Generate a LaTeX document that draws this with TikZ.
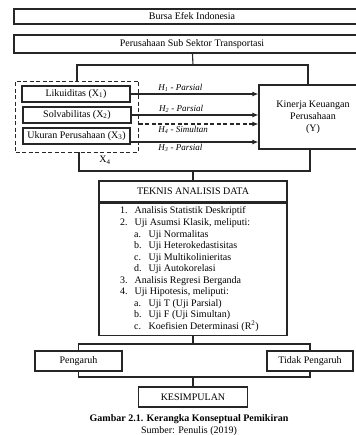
\documentclass[tikz,border=0pt]{standalone}
\usepackage{fontspec}
\setmainfont{Liberation Serif}
\usetikzlibrary{arrows.meta,positioning,calc}
\definecolor{ink}{HTML}{262626}

\begin{document}
\begin{tikzpicture}[x=1pt,y=-1pt,
  font=\fontsize{10}{12}\selectfont,
  box/.style={draw=ink,line width=1.1pt,inner sep=0pt,align=center},
  varbox/.style={draw=ink,line width=.9pt,dash pattern=on 4pt off 2.5pt,inner sep=0pt},
  link/.style={draw=ink,line width=1.1pt},
  arr/.style={-{Latex[length=6pt,width=5pt]},draw=ink,line width=1.1pt},
  lbl/.style={font=\itshape\fontsize{9}{11}\selectfont,inner sep=1.5pt},
  item/.style={inner sep=0pt}
]
\useasboundingbox (0,0) rectangle (355,435);
\node[box,minimum width=356pt,minimum height=15pt] (bei) at (192,16.5) {Bursa Efek Indonesia};
\node[box,minimum width=356pt,minimum height=18pt] (subsektor) at (192,44) {Perusahaan Sub Sektor Transportasi};
\node[varbox,minimum width=123pt,minimum height=71pt] (variabel) at (77,116.5) {};
\node[box,minimum width=108pt,minimum height=16pt] (lik) at (76,94) {Likuiditas (X\textsubscript{1})};
\node[box,minimum width=108pt,minimum height=16pt] (sol) at (77,115) {Solvabilitas (X\textsubscript{2})};
\node[box,minimum width=107pt,minimum height=16pt] (uk) at (76.5,136) {Ukuran Perusahaan (X\textsubscript{3})};
\node[item] (x4) at (105,160) {X\textsubscript{4}};
\node[box,minimum width=108pt,minimum height=64pt] (kinerja) at (313,117) {Kinerja Keuangan\\Perusahaan\\(Y)};
\coordinate (cabang1) at (193,65);
\draw[link] (subsektor) -- (cabang1);
\draw[link] (cabang1) -| (variabel.north);
\draw[link] (cabang1) -| ([xshift=-5pt]kinerja.north);
\foreach \src/\dy/\hh/\side in {lik/0/1/above,sol/0/2/above,uk/6/3/below}
  \draw[arr] ([yshift=-\dy pt]\src.east) -- ([yshift=-\dy pt]\src.east -| kinerja.west)
    node[lbl,\side,pos=.39] {H\textsubscript{\hh} - Parsial};
\draw[arr,dash pattern=on 4pt off 2.5pt] ([yshift=-7.5pt]variabel.east) -- ([yshift=-7.5pt]variabel.east -| kinerja.west)
  node[lbl,below,pos=.37] {H\textsubscript{4} - Simultan};
\node[box,minimum width=188pt,minimum height=21pt] (teknis) at (193,191.5) {TEKNIS ANALISIS DATA};
\node[box,minimum width=188pt,minimum height=132pt,below=0pt of teknis] (metode) {};
\coordinate (gabung1) at (193,171);
\draw[link] ([xshift=2pt]variabel.south) |- (gabung1);
\draw[link] ([xshift=-3pt]kinerja.south) |- (gabung1);
\draw[link] (gabung1) -- (teknis.north);
\foreach \lab/\txt/\xx [count=\i] in {1./Analisis Statistik Deskriptif/120,
  2./{Uji Asumsi Klasik, meliputi:}/120, a./Uji Normalitas/134,
  b./Uji Heterokedastisitas/134, c./Uji Multikolinieritas/134,
  d./Uji Autokorelasi/134, 3./Analisis Regresi Berganda/120,
  4./{Uji Hipotesis, meliputi:}/120, a./{Uji T (Uji Parsial)}/134,
  b./{Uji F (Uji Simultan)}/134, c./{Koefisien Determinasi (R\textsuperscript{2})}/134}
{
  \node[item,anchor=base west] (num\i) at (\xx,{202.5+11.5*\i}) {\lab};
  \node[item,anchor=base west] (txt\i) at ([xshift=14.5pt]num\i.base west) {\txt};
}
\node[box,minimum width=87pt,minimum height=20pt] (pengaruh) at (78.5,361) {Pengaruh};
\node[box,minimum width=86pt,minimum height=20pt] (tidak) at (310,361) {Tidak Pengaruh};
\node[box,minimum width=109pt,minimum height=20pt] (kesimpulan) at (193,397) {KESIMPULAN};
\coordinate (cabang2) at (193,344);
\coordinate (gabung2) at (193,377);
\draw[link] (metode) -- (cabang2);
\draw[link] (cabang2) -| (pengaruh.north);
\draw[link] (cabang2) -| (tidak.north);
\draw[link] (pengaruh.south) |- (gabung2);
\draw[link] (tidak.south) |- (gabung2);
\draw[link] (gabung2) -- (kesimpulan);
\node[item,font=\bfseries\fontsize{10}{12}\selectfont] (judul) at (189,419) {Gambar 2.1. Kerangka Konseptual Pemikiran};
\node[item] (sumber) at (189,431) {Sumber: Penulis (2019)};
\end{tikzpicture}
\end{document}
